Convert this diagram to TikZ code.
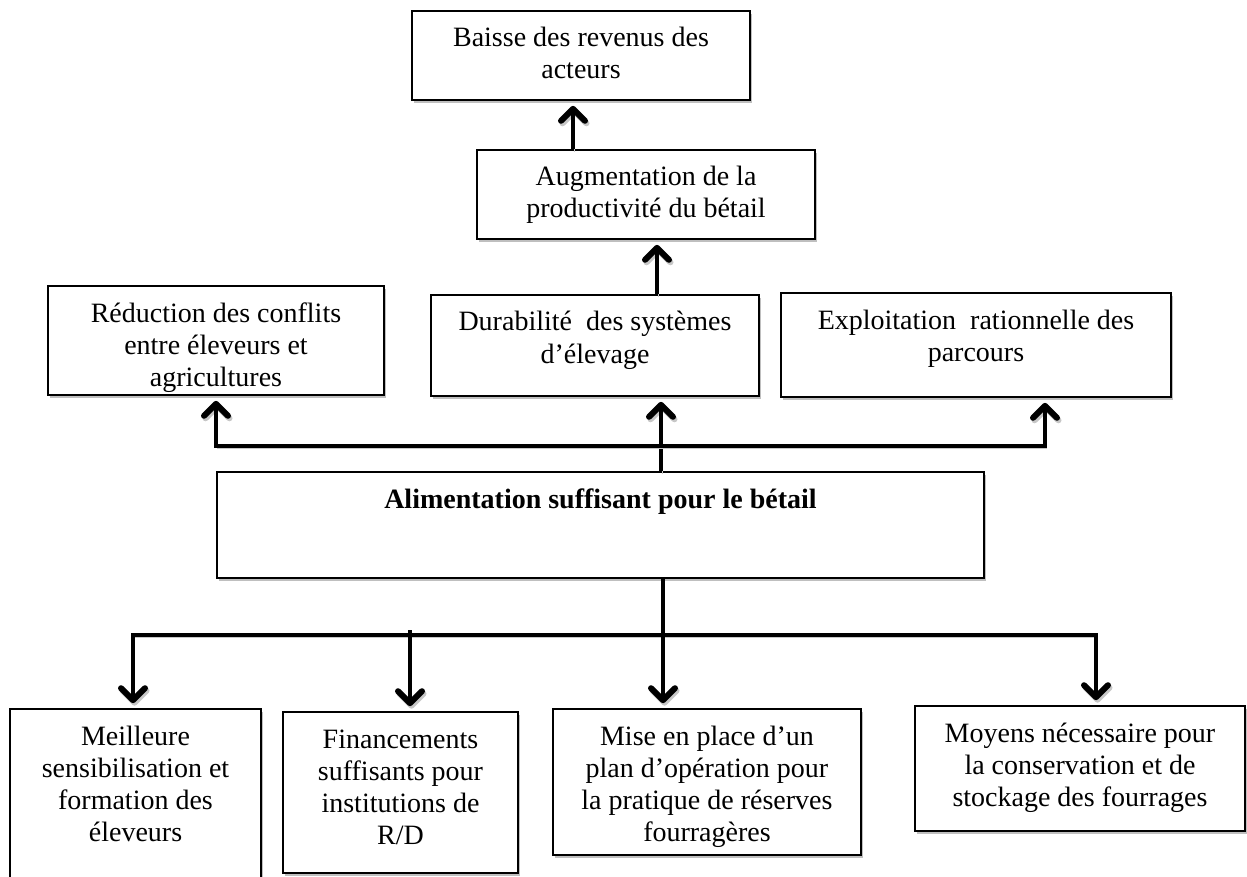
\documentclass[tikz,border=0pt]{standalone}
\usepackage{fontspec}
\setmainfont{Liberation Serif}
\usetikzlibrary{arrows.meta,shadows}

% text block of a box: width, height, text set from the top
\newcommand{\boxtxt}[3]{\parbox[c][#2][t]{#1}{\centering\vspace*{13.6pt}\strut #3\par}}

\tikzset{
  box/.style={draw=black, line width=1.6pt, fill=white, inner sep=0pt,
    drop shadow={shadow xshift=2pt, shadow yshift=-3pt, opacity=0.25, fill=black}},
  link/.style={line width=4.8pt, line cap=butt,
    preaction={draw=black!22, transform canvas={xshift=1.5pt, yshift=-2.5pt}}},
  arr/.style={link, -{Straight Barb[length=12pt, width=24pt, line width=0pt 1.25, round]}, shorten >=5pt},
}

\begin{document}
\begin{tikzpicture}[x=1pt, y=-1pt, font=\fontsize{28}{32}\selectfont]
\clip (0,0) rectangle (1247,877);
\fill[white] (0,0) rectangle (1247,877);

% effects
\node[box] (baisse) at (581,55.5) {\boxtxt{338pt}{89pt}{Baisse des revenus des\\acteurs}};
\node[box] (augm) at (646,194.5) {\boxtxt{338pt}{89pt}{Augmentation de la\\productivité du bétail}};
\node[box] (reduc) at (216,340.5) {\boxtxt{336pt}{109pt}{Réduction des conflits\\entre éleveurs et\\agricultures}};
\node[box] (durab) at (595,345.5) {\boxtxt{328pt}{101pt}{Durabilité\ \ des systèmes\\d’élevage}};
\node[box] (explo) at (976,345) {\boxtxt{390pt}{104pt}{Exploitation\ \ rationnelle des\\parcours}};

% central goal
\node[box] (alim) at (600.5,525) {\boxtxt{767pt}{106pt}{\bfseries Alimentation suffisant pour le bétail}};

% means
\node[box] (meil) at (135.5,802) {\boxtxt{251pt}{186pt}{Meilleure\\sensibilisation et\\formation des\\éleveurs}};
\node[box] (fin) at (400.5,792.5) {\boxtxt{235pt}{161pt}{Financements\\suffisants pour\\institutions de\\R/D}};
\node[box] (mise) at (707,782) {\boxtxt{308pt}{146pt}{Mise en place d’un\\plan d’opération pour\\la pratique de réserves\\fourragères}};
\node[box] (moy) at (1080,768.5) {\boxtxt{330pt}{125pt}{Moyens nécessaire pour\\la conservation et de\\stockage des fourrages}};

% junctions
\coordinate (hubup) at (661,446);
\coordinate (hubdown) at (663,635);
\coordinate (finstart) at (410,630);

% upper chain
\draw[arr] (augm.north -| 573,0) -- (baisse.south -| 573,0);
\draw[arr] (durab.north -| 657,0) -- (augm.south -| 657,0);
\draw[arr] (alim.north -| 661,0) -- (durab.south -| 661,0);
\draw[arr] (hubup) -| (reduc.south -| 216,0);
\draw[arr] (hubup) -| (explo.south -| 1045,0);

% lower fan
\draw[link] (alim.south -| 663,0) -- (hubdown);
\draw[arr] (hubdown) -| (meil.north -| 133,0);
\draw[arr] (hubdown) -| (moy.north -| 1096,0);
\draw[arr] (hubdown) -- (mise.north -| 663,0);
\draw[arr] (finstart) -- (fin.north -| 410,0);
\end{tikzpicture}
\end{document}
